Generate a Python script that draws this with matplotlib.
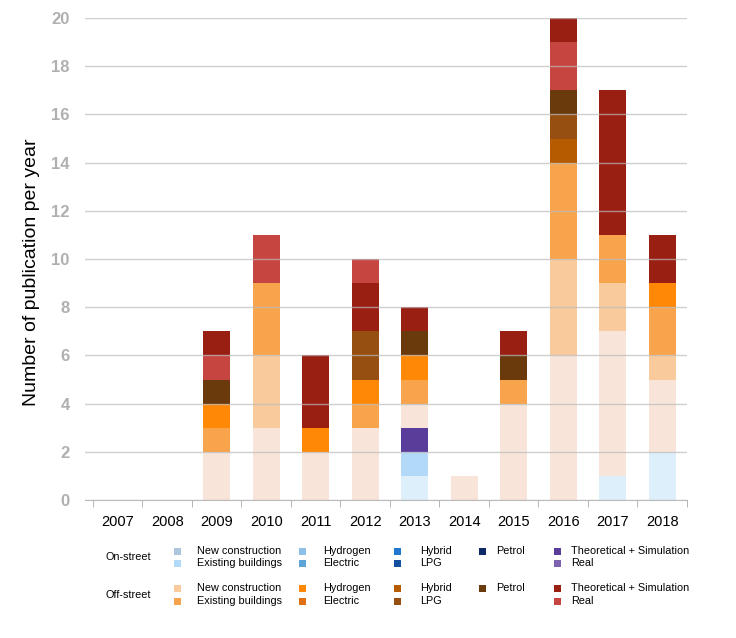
import numpy as np
import matplotlib
matplotlib.use("Agg")
import matplotlib.pyplot as plt
from matplotlib.patches import Rectangle

plt.rcParams['font.family'] = ['Liberation Sans', 'DejaVu Sans']

years = ['2007', '2008', '2009', '2010', '2011', '2012',
         '2013', '2014', '2015', '2016', '2017', '2018']

# on-street
on_street = [0, 0, 0, 0, 0, 0, 1, 0, 0, 0, 1, 2]
on_existing = [0, 0, 0, 0, 0, 0, 1, 0, 0, 0, 0, 0]
on_theory = [0, 0, 0, 0, 0, 0, 1, 0, 0, 0, 0, 0]

# off-street
off_street = [0, 0, 2, 3, 2, 3, 1, 1, 4, 6, 6, 3]
off_new = [0, 0, 0, 3, 0, 0, 0, 0, 0, 4, 2, 1]
off_existing = [0, 0, 1, 3, 0, 1, 1, 0, 1, 4, 2, 2]
off_hydrogen = [0, 0, 1, 0, 1, 1, 1, 0, 0, 0, 0, 1]
off_hybrid = [0, 0, 0, 0, 0, 0, 0, 0, 0, 1, 0, 0]
off_lpg = [0, 0, 0, 0, 0, 2, 0, 0, 0, 1, 0, 0]
off_petrol = [0, 0, 1, 0, 0, 0, 1, 0, 1, 1, 0, 0]
off_theory = [0, 0, 1, 0, 3, 2, 1, 0, 1, 1, 6, 2]
off_real = [0, 0, 1, 2, 0, 1, 0, 0, 0, 2, 0, 0]
real_below_theory = ['2009', '2016']  # years where "Real" sits under "Theoretical"

legend_rows = {
    'On-street': [
        ('New construction', '#adc6dd'), ('Existing buildings', '#b3d9f8'),
        ('Hydrogen', '#8dc0e8'), ('Electric', '#5da4d8'),
        ('Hybrid', '#1f77d0'), ('LPG', '#1550a0'),
        ('Petrol', '#0d2a66'), (None, None),
        ('Theoretical + Simulation', '#5a3d9a'), ('Real', '#7d62b0'),
    ],
    'Off-street': [
        ('New construction', '#f9ca9c'), ('Existing buildings', '#f7a44c'),
        ('Hydrogen', '#ff8806'), ('Electric', '#e07012'),
        ('Hybrid', '#b65b00'), ('LPG', '#964f10'),
        ('Petrol', '#6a3a0c'), (None, None),
        ('Theoretical + Simulation', '#9a1f13'), ('Real', '#c64541'),
    ],
}


def main():
    W, H = 736, 638
    fig = plt.figure(figsize=(W / 100, H / 100), dpi=100)
    ax = fig.add_axes([85 / W, 1 - 500 / H, (687 - 85) / W, (500 - 18) / H])

    x = np.arange(len(years))
    low = np.array([y in real_below_theory for y in years])
    real = np.array(off_real)

    series = [
        (on_street, '#ddeffa'),
        (on_existing, '#b3d9f8'),
        (on_theory, '#5a3d9a'),
        (off_street, '#f8e4d9'),
        (off_new, '#f9ca9c'),
        (off_existing, '#f7a44c'),
        (off_hydrogen, '#ff8806'),
        (off_hybrid, '#b65b00'),
        (off_lpg, '#964f10'),
        (off_petrol, '#6a3a0c'),
        (np.where(low, real, 0), '#c64541'),
        (off_theory, '#9a1f13'),
        (np.where(low, 0, real), '#c64541'),
    ]

    bottom = np.zeros(len(years))
    for vals, col in series:
        vals = np.asarray(vals, dtype=float)
        ax.bar(x, vals, width=0.55, bottom=bottom, color=col, linewidth=0, zorder=2)
        bottom += vals

    ax.set_xlim(-0.66, 11.5)
    ax.set_ylim(0, 20)
    ax.set_yticks(range(0, 21, 2))
    ax.grid(axis='y', color='#bbbbbb', alpha=0.7, linewidth=1, zorder=3)
    ax.set_axisbelow(False)
    for s in ['left', 'right', 'top']:
        ax.spines[s].set_visible(False)
    ax.spines['bottom'].set_color('#bbbbbb')

    ax.set_xticks(x)
    ax.set_xticklabels(years, fontsize=10.5)
    ax.set_xticks(np.arange(-0.5, 12, 1), minor=True)
    ax.tick_params(axis='x', which='major', length=0, pad=11)
    ax.tick_params(axis='x', which='minor', length=5, color='#aaaaaa')
    ax.tick_params(axis='y', length=0, pad=11, labelsize=12, labelcolor='#b0b0b0')
    for t in ax.get_yticklabels():
        t.set_fontweight('bold')

    ax.set_ylabel('Number of publication per year', fontsize=14)
    ax.yaxis.set_label_coords(-0.075, 0.473)

    # legend drawn by hand
    col_sq = [177, 177, 302, 302, 398, 398, 482, 482, 557, 557]
    col_tx = [197, 197, 323, 323, 420, 420, 496, 496, 571, 571]
    row_y = {'On-street': (551, 563), 'Off-street': (588, 601)}
    for name, items in legend_rows.items():
        y1, y2 = row_y[name]
        fig.text(105 / W, 1 - (y1 + y2) / 2 / H, name, fontsize=7.8, va='center')
        for i, (lab, col) in enumerate(items):
            if lab is None:
                continue
            yy = y1 if i % 2 == 0 else y2
            fig.add_artist(Rectangle(((col_sq[i] - 3.5) / W, 1 - (yy + 3.5) / H),
                                     7 / W, 7 / H, transform=fig.transFigure,
                                     color=col, linewidth=0))
            fig.text(col_tx[i] / W, 1 - yy / H, lab, fontsize=7.8, va='center')

    fig.savefig('out.png', dpi=100)
    plt.close(fig)


if __name__ == "__main__":
    main()
